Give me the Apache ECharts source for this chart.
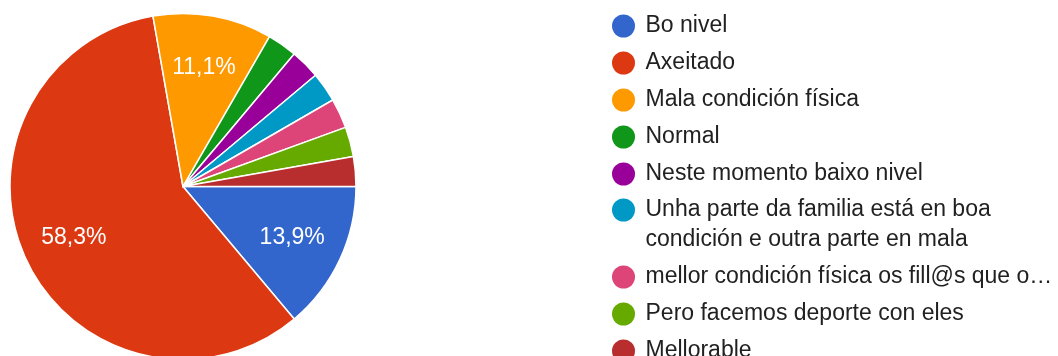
<!DOCTYPE html>
<html>
<head>
<meta charset="utf-8">
<script src="https://cdn.jsdelivr.net/npm/echarts@6/dist/echarts.min.js"></script>
<style>
  html, body { margin: 0; padding: 0; background: #fff; }
  #chart { width: 1058px; height: 356px; }
</style>
</head>
<body>
<div id="chart"></div>
<script>
const categories = [
  'Bo nivel',
  'Axeitado',
  'Mala condición física',
  'Normal',
  'Neste momento baixo nivel',
  'Unha parte da familia está en boa condición e outra parte en mala',
  'mellor condición física os fill@s que o…',
  'Pero facemos deporte con eles',
  'Mellorable'
];
const counts = [5, 21, 4, 1, 1, 1, 1, 1, 1];
const colors = ['#3366cc', '#dc3912', '#ff9900', '#109618', '#990099', '#0099c6', '#dd4477', '#66aa00', '#b82e2e'];
// legend text as wrapped in the reference
const wrappedLegend = {
  'Unha parte da familia está en boa condición e outra parte en mala':
    ['Unha parte da familia está en boa', 'condición e outra parte en mala']
};

const chart = echarts.init(document.getElementById('chart'), null, { renderer: 'canvas' });
const pieData = categories.map((name, i) => ({ name: name, value: counts[i] }));
const FONT = 'Arial, "Liberation Sans", sans-serif';

const legendBase = {
  type: 'plain',
  orient: 'vertical',
  left: 612,
  height: 800,
  padding: 0,
  itemWidth: 34,
  itemHeight: 23,
  itemGap: 7,
  icon: 'circle',
  itemStyle: { borderWidth: 0 },
  textStyle: { fontFamily: FONT, fontSize: 23, color: '#212121', lineHeight: 30 },
  formatter: name => {
    const lines = wrappedLegend[name];
    // an empty first line keeps the marker level with the first text line
    return lines ? '\n' + lines.join('\n') : name;
  }
};

const option = {
  animation: false,
  color: colors,
  legend: [
    Object.assign({}, legendBase, { top: 11, data: categories.slice(0, 5) }),
    Object.assign({}, legendBase, { top: 165, data: categories.slice(5) })
  ],
  series: [
    {
      type: 'pie',
      center: [183, 186.5],
      radius: [0, 173],
      startAngle: 0,
      clockwise: true,
      data: pieData,
      label: { show: false },
      labelLine: { show: false },
      itemStyle: { borderColor: '#ffffff', borderWidth: 1.5 },
      emphasis: { disabled: true }
    },
    {
      type: 'pie',
      center: [183, 186.5],
      radius: [62, 173],
      startAngle: 0,
      clockwise: true,
      silent: true,
      data: pieData,
      percentPrecision: 1,
      itemStyle: { color: 'rgba(0,0,0,0)', borderWidth: 0 },
      labelLine: { show: false },
      label: {
        show: true,
        position: 'inside',
        color: '#ffffff',
        fontFamily: FONT,
        fontSize: 23,
        formatter: p => p.percent < 5 ? '' : p.percent.toFixed(1).replace('.', ',') + '%'
      },
      emphasis: { disabled: true }
    }
  ]
};
chart.setOption(option);
</script>
</body>
</html>
